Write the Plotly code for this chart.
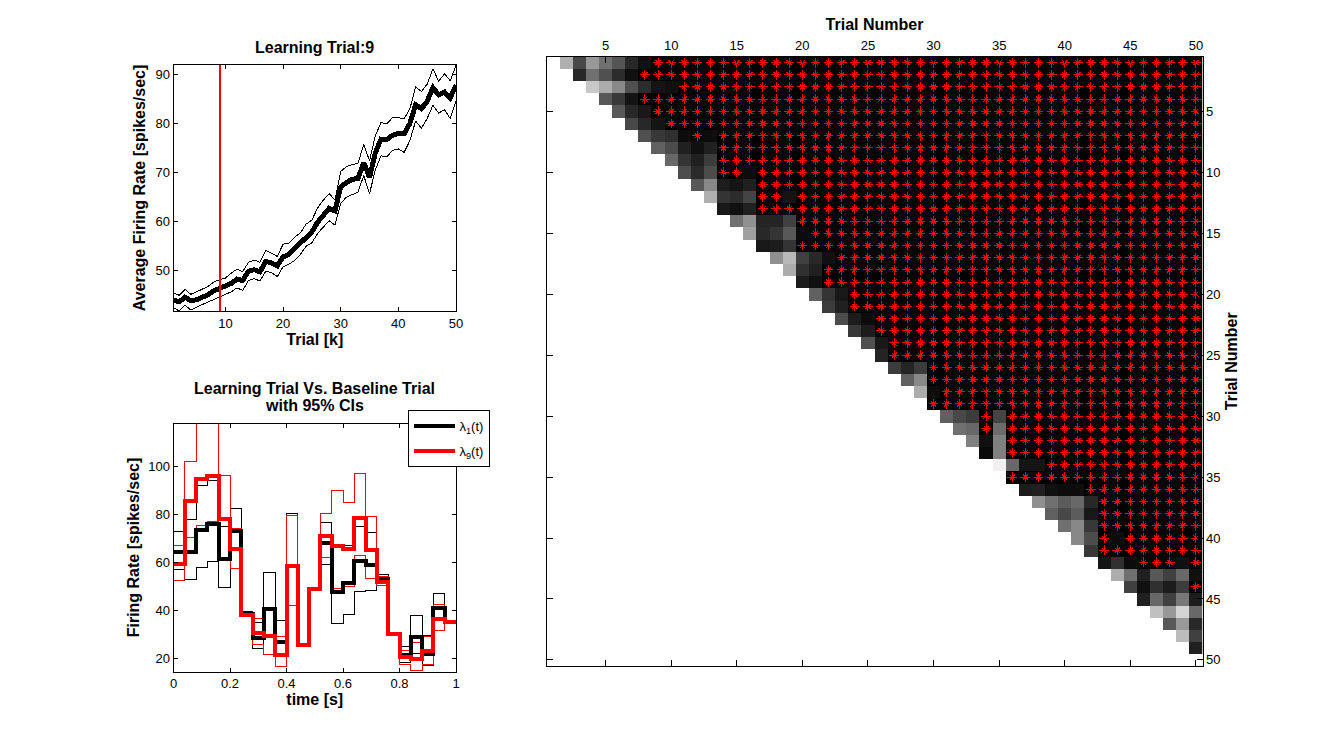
import plotly.graph_objects as go

W, H = 1328, 748
FONT = "Liberation Sans"

# ---------- top-left panel ----------
trials = list(range(1, 51))
rate_mean = [44, 43.7, 44.6, 43.9, 44.1, 44.6, 45.1, 45.9, 46.4, 46.8,
             47.4, 48.3, 48.0, 49.9, 50.2, 49.8, 51.9, 51.6, 51.0, 52.8,
             53.3, 54.5, 55.6, 56.8, 57.9, 59.9, 61.5, 62.7, 62.2, 67.0,
             68.0, 68.6, 68.8, 72.0, 69.0, 74.0, 76.8, 76.7, 77.6, 78.0,
             77.9, 80.0, 83.8, 83.0, 84.5, 87.3, 85.8, 86.4, 85.2, 87.8]
rate_upper = [45.5, 45, 46.2, 45.2, 45.7, 46.2, 46.8, 47.7, 48.2, 48.5,
              49.5, 50.3, 49.8, 51.7, 52.2, 51.7, 54.1, 53.6, 52.9, 55.4,
              55.6, 56.8, 57.7, 59.5, 60.3, 62.8, 64.4, 65.7, 64.4, 70.2,
              71.2, 71.6, 71.9, 75.7, 72.4, 77.5, 80.2, 79.9, 81.2, 81.2,
              80.9, 83, 87.4, 86.5, 88, 91.1, 88.6, 90.1, 88.7, 91.8]
rate_lower = [42.5, 41.8, 43, 42, 42.6, 43.1, 43.6, 44.2, 44.7, 45.2,
              45.7, 46.5, 46, 48, 48.4, 47.9, 49.9, 49.6, 48.8, 50.8,
              51.3, 52.1, 53.3, 55, 55.7, 57.6, 59, 60.2, 59.3, 63.7,
              65, 65.5, 66, 69.4, 65.7, 70.5, 73.4, 73.2, 74.5, 74.8,
              74.1, 76.5, 80.5, 79, 81, 83.7, 82.1, 82.8, 81, 84.5]
learning_trial = 9

# ---------- bottom-left panel (25 bins, last value repeated at t = 1) ----------
time_edges = [0, .04, .08, .12, .16, .2, .24, .28, .32, .36, .4, .44, .48, .52,
              .56, .6, .64, .68, .72, .76, .8, .84, .88, .92, .96, 1]
lam1 = [64.5, 64.5, 73.5, 76, 61.5, 73, 38.5, 28.5, 40.5, 27, 58.5, 25.5, 49,
        68, 47.5, 51.5, 60.5, 59, 53, 30, 21.5, 29, 22, 41, 35, 35]
lam1_up = [73, 78, 92, 94, 75, 82.5, 39.5, 35, 56, 36, 80.5, 25.5, 49,
           76.5, 67, 67, 75, 72.5, 55, 30, 25, 38, 29.5, 47, 35, 35]
lam1_lo = [57, 53, 58, 60.5, 49.5, 65, 38, 24, 29, 21, 42, 25.5, 49,
           59, 34.5, 38.5, 48, 48.5, 51.5, 30, 18.5, 22, 17, 36.5, 35, 35]
lam9 = [59.5, 85.5, 94.5, 96, 78, 65.5, 38, 30.5, 29.5, 21.5, 58.5, 25.5, 49,
        71, 67, 65.5, 78.5, 65, 52, 30, 20.5, 20, 23, 36.5, 35, 35]
lam9_up = [67, 102, 125, 125, 96, 74, 38, 36.5, 40, 29, 79.5, 25.5, 49,
           80.5, 90, 85, 97, 79, 54, 30, 23.5, 26.5, 29, 42.5, 35, 35]
lam9_lo = [52.5, 70.5, 75.5, 77, 62, 57.5, 38, 26, 21.5, 16.5, 42, 25.5, 49,
           62, 49, 50, 63, 53.5, 50.5, 30, 17.5, 15, 17.5, 31.5, 35, 35]

# ---------- right panel ----------
# grey level for row r, starting at column r+1; None = significant (star) cell.
# Every column after the end of a row's list is a significant cell.
row_greys = [
    [0xB0, 0x48, 0x98, 0x70, 0x55, 0x28, 0x10],
    [0x28, 0x70, 0x50, 0x2C, 0x10],
    [0xC8, 0xAC, 0x88, 0x50, 0x2C, 0x14, 0x10],
    [0x58, 0x38, 0x14],
    [0x58, 0x28, 0x18],
    [0x48, 0x28, 0x14],
    [0x50, 0x38, 0x30, 0x0C, None, 0x0C],
    [0x60, 0x4C, 0x20, 0x10, 0x20],
    [0x68, 0x34, 0x20, 0x3C],
    [0x4C, 0x2A, 0x4C, None, None, 0x0C],
    [0x58, 0x88, 0x1C, 0x14, 0x20],
    [0xB0, 0x34, 0x2C, 0x44, None, None, 0x14],
    [0x18, 0x10, 0x20],
    [0x70, 0x90, 0x24, 0x24, 0x40],
    [0xA0, 0x28, 0x34, 0x58, 0x0C],
    [0x18, 0x1C, 0x34],
    [0x90, 0xB8, 0x40, 0x28, 0x10],
    [0xAC, 0x30, 0x20],
    [0x1C, 0x10],
    [0x60, 0x34, 0x18],
    [0x3C, 0x20],
    [0x4C, 0x1C, 0x0C],
    [0x38, 0x1C],
    [0x50, 0x18],
    [0x24],
    [0x3C, 0x24, 0x3C],
    [0x60, 0x88],
    [0xAC, 0x0C],
    [],
    [0x60, 0x48, 0x3C, None, 0x44],
    [0x70, 0x68, None, 0x6C],
    [0x80, 0x10, 0x80],
    [0x0A, 0x80],
    [0xF0, 0x68, 0x14, 0x14],
    [],
    [0x1C, 0x20, 0x10, 0x0C, 0x0C],
    [0x90, 0x70, 0x5C, 0x68, 0x28],
    [0x60, 0x48, 0x5C, 0x18],
    [0x70, 0x88, 0x38],
    [0x88, 0x4C, None, 0x0C],
    [0x38],
    [0x14, 0x30, 0x0C, None, None, None, 0x10],
    [0xAC, 0x70, 0x20, 0x58, 0x40, 0x68, 0x10],
    [0x40, 0x10, 0x30, 0x1C, 0x3C],
    [0x20, 0x68, 0x40, 0x78, 0x1C],
    [0xC0, 0x98, 0xD4, 0x68],
    [0x58, 0x98, 0x28],
    [0xBC, 0x40],
    [0x20],
    [],
]
BLACK_LEVEL = 3
N = 50
axis_ticks = list(range(5, 51, 5))

z = [[None] * N for _ in range(N)]
star_x, star_y = [], []
for r, greys in enumerate(row_greys, start=1):
    for c in range(r + 1, N + 1):
        i = c - r - 1
        g = greys[i] if i < len(greys) else None
        if g is None:
            z[r - 1][c - 1] = BLACK_LEVEL
            star_x.append(c)
            star_y.append(r)
        else:
            z[r - 1][c - 1] = g


def px_x(a, b):
    return [a / W, b / W]


def px_y(top, bottom):
    return [1 - bottom / H, 1 - top / H]


fig = go.Figure()

# top-left
for ys, wd in ((rate_upper, 1), (rate_lower, 1), (rate_mean, 5)):
    fig.add_trace(go.Scatter(x=trials, y=ys, mode="lines", showlegend=False,
                             line=dict(color="black", width=wd), xaxis="x", yaxis="y"))
fig.add_trace(go.Scatter(x=[learning_trial, learning_trial], y=[41.8, 91.9], mode="lines",
                         showlegend=False, line=dict(color="#ff0000", width=2),
                         xaxis="x", yaxis="y"))

# bottom-left
for ys, col in ((lam1_up, "black"), (lam1_lo, "black"), (lam9_up, "#ff0000"), (lam9_lo, "#ff0000")):
    fig.add_trace(go.Scatter(x=time_edges, y=ys, mode="lines", showlegend=False,
                             line=dict(color=col, width=1, shape="hv"), xaxis="x2", yaxis="y2"))
fig.add_trace(go.Scatter(x=time_edges, y=lam1, mode="lines", name="λ<sub>1</sub>(t)",
                         legendgroup="a", line=dict(color="black", width=4, shape="hv"),
                         xaxis="x2", yaxis="y2"))
fig.add_trace(go.Scatter(x=time_edges, y=lam9, mode="lines", name="λ<sub>9</sub>(t)",
                         legendgroup="b", line=dict(color="#ff0000", width=4, shape="hv"),
                         xaxis="x2", yaxis="y2"))

# right
fig.add_trace(go.Heatmap(x=list(range(1, N + 1)), y=list(range(1, N + 1)), z=z, zmin=0, zmax=255,
                         colorscale=[[0, "black"], [1, "white"]], showscale=False,
                         hoverongaps=False, xaxis="x3", yaxis="y3"))
fig.add_trace(go.Scatter(x=star_x, y=star_y, mode="markers", showlegend=False,
                         marker=dict(symbol="cross-thin-open", size=7, color="#ff0000",
                                     line=dict(color="#ff0000", width=1)),
                         xaxis="x3", yaxis="y3"))
fig.add_trace(go.Scatter(x=star_x, y=star_y, mode="markers", showlegend=False,
                         marker=dict(symbol="x-thin-open", size=5, color="#ff0000",
                                     line=dict(color="#ff0000", width=1)),
                         xaxis="x3", yaxis="y3"))

tick = dict(ticks="inside", ticklen=4, tickcolor="black", tickwidth=1, showline=True,
            linecolor="black", linewidth=1, mirror="ticks", showgrid=False, zeroline=False,
            automargin=False, tickfont=dict(family=FONT, size=13, color="black"))
lab = dict(family=FONT, size=16, color="black", weight="bold")


def head(text, y_px):
    return dict(text="<b>" + text + "</b>", x=314 / W, y=1 - y_px / H, xref="paper", yref="paper",
                showarrow=False, xanchor="center", yanchor="middle",
                font=dict(family=FONT, size=16, color="black"))


fig.update_layout(
    width=W, height=H, margin=dict(l=0, r=0, t=0, b=0),
    paper_bgcolor="white", plot_bgcolor="white",
    font=dict(family=FONT, color="black"),
    xaxis=dict(domain=px_x(173.5, 456), range=[1, 50], tickvals=[10, 20, 30, 40, 50],
               title=dict(text="Trial [k]", font=lab, standoff=4), anchor="y", **tick),
    yaxis=dict(domain=px_y(65, 311), range=[41.8, 91.9], tickvals=[50, 60, 70, 80, 90],
               title=dict(text="Average Firing Rate [spikes/sec]", font=lab, standoff=5),
               anchor="x", **tick),
    xaxis2=dict(domain=px_x(173.5, 456), range=[0, 1], tickvals=[0, .2, .4, .6, .8, 1],
                ticktext=["0", "0.2", "0.4", "0.6", "0.8", "1"],
                title=dict(text="time [s]", font=lab, standoff=3), anchor="y2", **tick),
    yaxis2=dict(domain=px_y(423.5, 671.5), range=[14.6, 117.8], tickvals=[20, 40, 60, 80, 100],
                title=dict(text="Firing Rate [spikes/sec]", font=lab, standoff=4),
                anchor="x2", **tick),
    xaxis3=dict(domain=px_x(546.5, 1202.5), range=[0.5, 50.5], tickvals=axis_ticks, side="top",
                title=dict(text="Trial Number", font=lab, standoff=3), anchor="y3",
                **{**tick, "ticklen": 6}),
    yaxis3=dict(domain=px_y(56.5, 666), range=[50.5, 0.5], tickvals=axis_ticks, side="right",
                title=dict(text="Trial Number", font=lab, standoff=6), anchor="x3",
                **{**tick, "ticklen": 6}),
    legend=dict(x=407.5 / W, y=1 - 410 / H, xanchor="left", yanchor="top",
                bgcolor="white", bordercolor="black", borderwidth=1, itemwidth=41,
                font=dict(family=FONT, size=13, color="black"), tracegroupgap=5),
    annotations=[
        head("Learning Trial:9", 47),
        head("Learning Trial Vs. Baseline Trial", 388),
        head("with 95% CIs", 406),
    ],
)

crisp = ("document.body.style.margin='0';"
         "document.querySelectorAll('.points path, .scatterlayer .js-line, .legendlines path')"
         ".forEach(function(p){p.style.shapeRendering='crispEdges';});")
fig.write_html("out.html", config={"displayModeBar": False}, post_script=crisp)
